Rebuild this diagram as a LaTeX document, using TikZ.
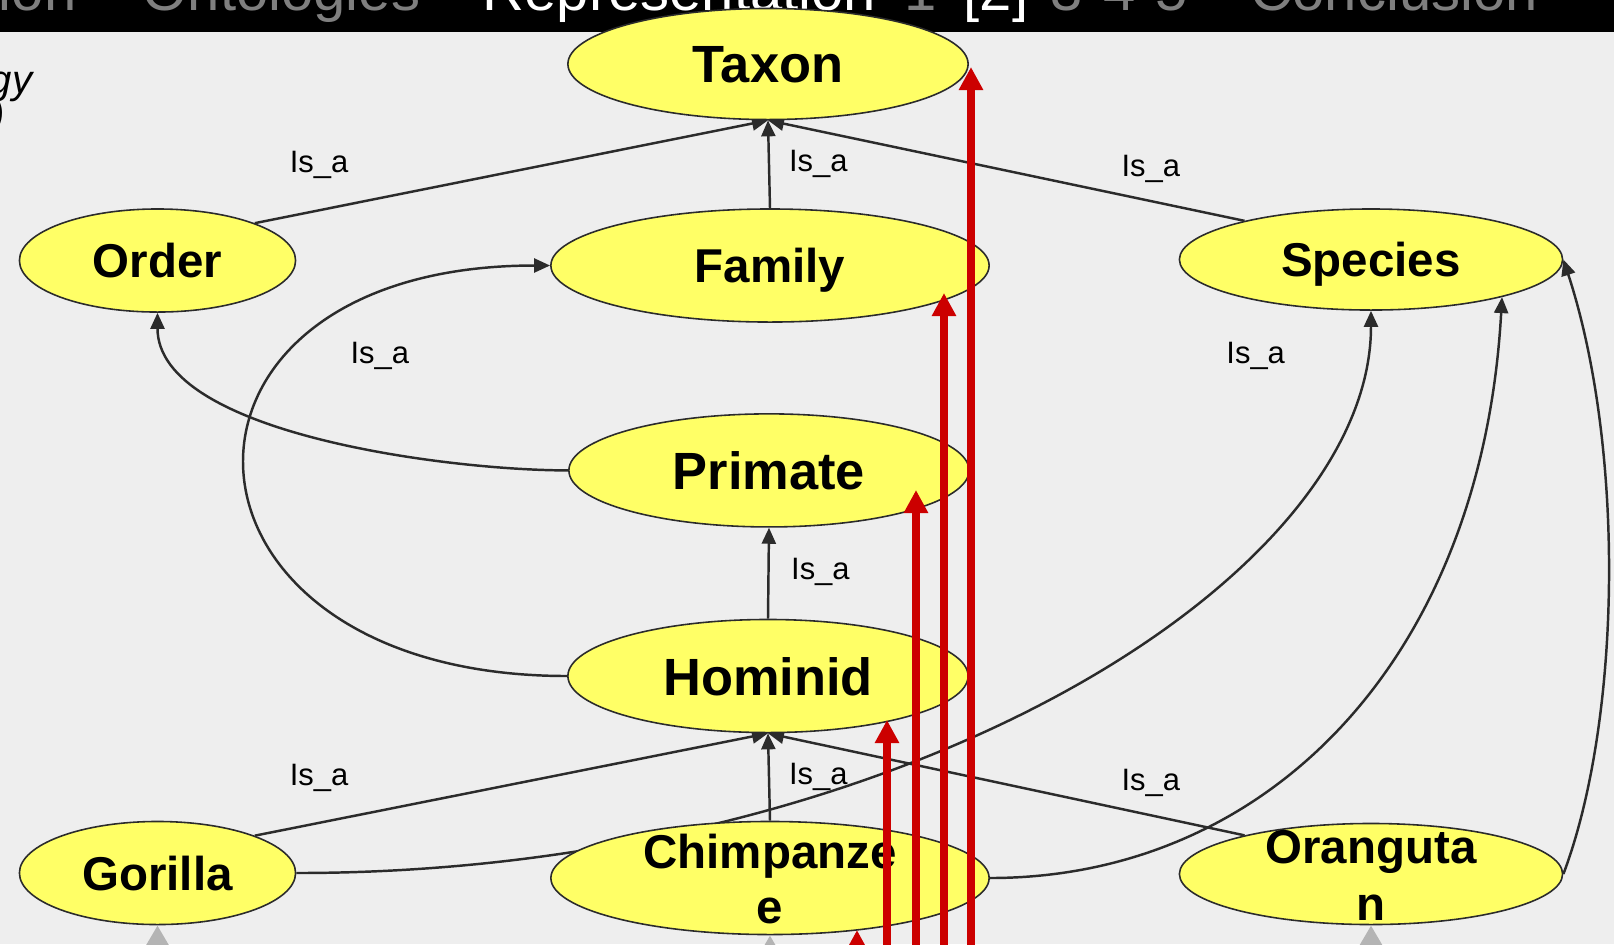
\documentclass[tikz,border=0pt]{standalone}
\usepackage{fontspec}
\setmainfont{Liberation Sans}
\usetikzlibrary{shapes.geometric, arrows.meta}
\definecolor{slidebg}{HTML}{EEEEEE}
\definecolor{nodefill}{HTML}{FFFF66}
\definecolor{edgegrey}{HTML}{2B2B2B}
\definecolor{pinred}{HTML}{CC0000}
\definecolor{bargrey}{HTML}{7F7F7F}
\definecolor{tipgrey}{HTML}{B4B4B4}
\pgfdeclarelayer{back}
\pgfsetlayers{back,main}

\begin{document}
\begin{tikzpicture}[x=0.01cm, y=-0.01cm,
	concept/.style = {draw=edgegrey, line width=0.45pt, ellipse, fill=nodefill, inner sep=0pt, text depth=0pt, font=\fontsize{13.5}{15.5}\selectfont\bfseries},
	bigconcept/.style = {concept, font=\fontsize{14.9}{15.5}\selectfont\bfseries},
	isa/.style = {draw=edgegrey, line width=0.7pt, -{Triangle[length=0.16cm, width=0.14cm]}},
	lbl/.style = {font=\fontsize{8.8}{10}\selectfont, inner sep=0pt},
	pin/.style = {draw=pinred, line width=0.075cm, -{Triangle[length=0.23cm, width=0.23cm]}},
	greypin/.style = {draw=tipgrey, line width=0.07cm, -{Triangle[length=0.25cm, width=0.27cm]}},
	bartext/.style = {font=\fontsize{16.5}{18}\selectfont, inner sep=0pt, anchor=base west}]
		\useasboundingbox (0,0) rectangle (1614,944);
		\clip (0,0) rectangle (1614,944);
		\node[bigconcept, minimum width=4.00cm, minimum height=1.11cm] (taxon) at (768,64) {Taxon};
		\node[concept, minimum width=2.76cm, minimum height=1.03cm] (order) at (157.5,260.5) {Order};
		\node[concept, minimum width=4.38cm, minimum height=1.13cm] (family) at (770,265.5) {Family};
		\node[concept, minimum width=3.83cm, minimum height=1.01cm] (species) at (1371,259.5) {Species};
		\node[bigconcept, minimum width=4.00cm, minimum height=1.13cm] (primate) at (769,470.4) {Primate};
		\node[bigconcept, minimum width=4.00cm, minimum height=1.13cm] (hominid) at (768,676) {Hominid};
		\node[concept, minimum width=2.76cm, minimum height=1.03cm] (gorilla) at (157.5,873) {Gorilla};
		\node[concept, minimum width=4.38cm, minimum height=1.13cm] (chimp) at (770,878) {\smash{\raisebox{0.095cm}{\begin{tabular}[t]{@{}c@{}}Chimpanze\\e\end{tabular}}}};
		\node[concept, minimum width=3.83cm, minimum height=1.01cm] (orangutan) at (1371,874) {\smash{\raisebox{0.11cm}{\begin{tabular}[t]{@{}c@{}}Oranguta\\[0.03cm]n\end{tabular}}}};
		\begin{pgfonlayer}{back}
			\fill[slidebg] (0,0) rectangle (1614,944);
			\fill[black] (0,0) rectangle (1614,32);
			\node[bartext, anchor=base east, text=bargrey] (prevsec) at (77,10.5) {ción};
			\node[bartext, text=bargrey] (ontosec) at (142,10.5) {Ontologies};
			\node[bartext, text=white] (reprsec) at (482,10.5) {Representation};
			\node[bartext, text=bargrey] (pageone) at (904,10.5) {1};
			\node[bartext, text=white] (pagetwo) at (963,10.5) {[2]};
			\node[bartext, text=bargrey] (pagethree) at (1050,10.5) {3};
			\node[bartext, text=bargrey] (pagefour) at (1103,10.5) {4};
			\node[bartext, text=bargrey] (pagefive) at (1155,10.5) {5};
			\node[bartext, text=bargrey] (conclsec) at (1250,10.5) {Conclusion};
			\draw[isa] (order.21) -- (taxon.south);
			\draw[isa] (family.north) -- (taxon.south);
			\draw[isa] (species.163) -- (taxon.south);
			\draw[isa] (primate.west) to[out=180, in=-90, looseness=0.7] (order.south);
			\draw[isa] (hominid.west) to[out=180, in=180, looseness=2.6] (family.west);
			\draw[isa] (hominid.north) -- (primate.south);
			\draw[isa] (gorilla.21) -- (hominid.south);
			\draw[isa] (chimp.north) -- (hominid.south);
			\draw[isa] (orangutan.163) -- (hominid.south);
			\draw[isa] (gorilla.east) .. controls +(600,0) and +(0,270) .. (species.south);
			\draw[isa] (chimp.east) .. controls +(280,0) and +(-20,360) .. (species.-16);
			\draw[isa] (orangutan.east) .. controls +(58,-154) and +(62,190) .. (species.east);
		\end{pgfonlayer}
		\node[anchor=base east, inner sep=0pt, font=\fontsize{11.4}{13}\selectfont\itshape] (leftgy) at (33,93) {gy};
		\node[anchor=base east, inner sep=0pt, font=\fontsize{11.4}{13}\selectfont\itshape] (leftparen) at (6,128.6) {)};
		\node[lbl] (isa1) at (319,164.6) {Is\_a};
		\node[lbl] (isa2) at (818.3,163.6) {Is\_a};
		\node[lbl] (isa3) at (1150.8,168.7) {Is\_a};
		\node[lbl] (isa4) at (379.8,356) {Is\_a};
		\node[lbl] (isa5) at (1255.7,356) {Is\_a};
		\node[lbl] (isa6) at (820.4,572.2) {Is\_a};
		\node[lbl] (isa7) at (319,778) {Is\_a};
		\node[lbl] (isa8) at (818.3,777) {Is\_a};
		\node[lbl] (isa9) at (1150.8,783.2) {Is\_a};
		\coordinate (taxonpin) at (971,67);
		\coordinate (taxonfoot) at (971,990);
		\coordinate (familypin) at (944,293);
		\coordinate (familyfoot) at (944,990);
		\coordinate (primatepin) at (916,490);
		\coordinate (primatefoot) at (916,990);
		\coordinate (hominidpin) at (887,720);
		\coordinate (hominidfoot) at (887,990);
		\coordinate (chimppin) at (857,930);
		\coordinate (chimpfoot) at (857,990);
		\draw[pin] (taxonfoot) -- (taxonpin);
		\draw[pin] (familyfoot) -- (familypin);
		\draw[pin] (primatefoot) -- (primatepin);
		\draw[pin] (hominidfoot) -- (hominidpin);
		\draw[pin] (chimpfoot) -- (chimppin);
		\coordinate (gorillafoot) at (157.5,1000);
		\coordinate (chimpbase) at (770,1000);
		\coordinate (orangutanfoot) at (1371,1000);
		\draw[greypin] (gorillafoot) -- (gorilla.south);
		\draw[greypin] (chimpbase) -- (chimp.south);
		\draw[greypin] (orangutanfoot) -- (orangutan.south);
\end{tikzpicture}
\end{document}
